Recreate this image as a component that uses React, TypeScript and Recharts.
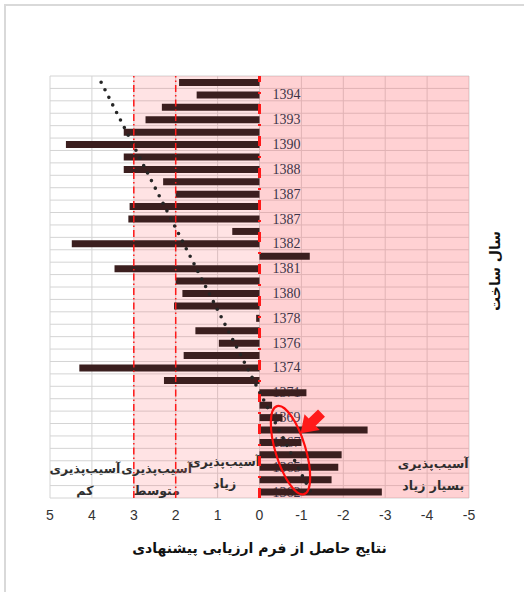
import {
  Bar,
  BarChart,
  CartesianGrid,
  LabelList,
  ReferenceArea,
  ReferenceDot,
  ReferenceLine,
  XAxis,
  YAxis,
} from "recharts";

// one entry per row, top to bottom; only every second row carries a year label
const YEAR_LABELS = [
  "", "1394", "", "1393", "", "1390", "", "1388", "", "1387", "", "1387",
  "", "1382", "", "1381", "", "1380", "", "1378", "", "1376", "", "1374",
  "", "1371", "", "1369", "", "1367", "", "1365", "", "1362",
];

const SCORES = [
  1.92, 1.5, 2.33, 2.72, 3.24, 4.62, 3.24, 3.24, 2.3, 2.0, 3.1, 3.13,
  0.65, 4.48, -1.2, 3.46, 2.0, 1.84, 2.04, 0.08, 1.53, 0.97, 1.81, 4.3,
  2.28, -1.12, -0.3, -0.55, -2.58, -1.0, -1.96, -1.88, -1.72, -2.92,
];

const X_TICKS = [5, 4, 3, 2, 1, 0, -1, -2, -3, -4, -5];

// linear trend line, value at first and last row
const TREND_START = 3.78;
const TREND_END = -1.22;

const ZONE_BOUNDS = [5, 3, 2, 0, -5];
const ZONE_TITLES = [
  ["آسیب‌پذیری", "کم"],
  ["آسیب‌پذیری", "متوسط"],
  ["آسیب‌پذیری", "زیاد"],
  ["آسیب‌پذیری", "بسیار زیاد"],
];
const ZONE_FILLS = ["#ffffff", "#ff666c", "#ff666c", "#ff666c"];
const ZONE_OPACITY = [0, 0.18, 0.18, 0.3];
const ZONE_TEXT_SHIFT = [
  { dx: -7, y1: 30, y2: 8 },
  { dx: 2, y1: 30, y2: 8 },
  { dx: 7, y1: 37, y2: 15 },
  { dx: 69, y1: 35, y2: 13 },
];

const X_TITLE = "نتایج حاصل از فرم ارزیابی پیشنهادی";
const Y_TITLE = "سال ساخت";

const PERSIAN_FONT = "'DejaVu Sans', sans-serif";

const rows = SCORES.map((score, i) => ({
  id: i,
  score,
  year: YEAR_LABELS[i],
}));

function zoneLabel(index: number) {
  const lines = ZONE_TITLES[index];
  const shift = ZONE_TEXT_SHIFT[index];
  return (props: any) => {
    const vb = props.viewBox;
    if (!vb) return null;
    const cx = vb.x + vb.width / 2 + shift.dx;
    const bottom = vb.y + vb.height;
    return (
      <g
        fontFamily={PERSIAN_FONT}
        fontSize={12.5}
        fontWeight="bold"
        fill="#2e2e2e"
        textAnchor="middle"
      >
        <text x={cx} y={bottom - shift.y1} dominantBaseline="central">
          {lines[0]}
        </text>
        <text x={cx} y={bottom - shift.y2} dominantBaseline="central">
          {lines[1]}
        </text>
      </g>
    );
  };
}

function Annotation(props: any) {
  const { cx, cy } = props;
  if (cx == null || cy == null) return null;
  const ex = cx;
  const ey = cy + 8;
  return (
    <g>
      <ellipse
        cx={ex}
        cy={ey}
        rx={15}
        ry={46}
        transform={`rotate(-17 ${ex} ${ey})`}
        fill="none"
        stroke="#ff0d0d"
        strokeWidth={2.2}
      />
      <polygon
        points="0,-5 13,-5 13,-11 29,0 13,11 13,5 0,5"
        transform={`translate(${ex + 31} ${ey - 37}) rotate(136)`}
        fill="#ff1a1a"
      />
    </g>
  );
}

export default function App() {
  return (
    <div
      style={{
        position: "absolute",
        left: 0,
        top: 0,
        width: 524,
        height: 592,
        overflow: "hidden",
        background: "#fff",
      }}
    >
      <div
        style={{
          position: "absolute",
          left: 4,
          top: 4,
          width: 600,
          height: 700,
          border: "2px solid #d9d9d9",
        }}
      />
      <div style={{ position: "absolute", left: 0, top: 0 }}>
        <BarChart
          width={524}
          height={592}
          layout="vertical"
          data={rows}
          barSize={7}
          margin={{ top: 76, right: 55, bottom: 34, left: 50 }}
        >
          <CartesianGrid
            stroke="#d4d4d4"
            horizontalCoordinatesGenerator={({ offset }: any) =>
              Array.from(
                { length: rows.length + 1 },
                (_, i) => offset.top + (i * offset.height) / rows.length
              )
            }
          />
          {ZONE_TITLES.map((_, i) => (
            <ReferenceArea
              key={i}
              x1={ZONE_BOUNDS[i]}
              x2={ZONE_BOUNDS[i + 1]}
              fill={ZONE_FILLS[i]}
              fillOpacity={ZONE_OPACITY[i]}
              stroke="none"
              ifOverflow="visible"
              label={zoneLabel(i)}
            />
          ))}
          <XAxis
            type="number"
            domain={[-5, 5]}
            reversed
            ticks={X_TICKS}
            interval={0}
            axisLine={false}
            tickLine={false}
            tickSize={0}
            tickMargin={12}
            height={60}
            tick={{ fill: "#333", fontSize: 14, fontFamily: "'Liberation Sans', Arial" }}
            label={{
              value: X_TITLE,
              position: "insideBottom",
              offset: 5,
              fill: "#111",
              fontSize: 14,
              fontWeight: "bold",
              fontFamily: PERSIAN_FONT,
            }}
          />
          <YAxis type="category" dataKey="id" hide />
          <Bar dataKey="score" fill="#3b1f1f" isAnimationActive={false}>
            <LabelList
              dataKey="year"
              zIndex={250}
              content={(p: any) => {
                const vb = p.viewBox;
                if (!p.value || !vb) return null;
                return (
                  <text
                    x={vb.x + 13}
                    y={vb.y + vb.height / 2}
                    dominantBaseline="central"
                    fill="#3c3448"
                    fontSize={14}
                    fontFamily="'Liberation Serif', serif"
                  >
                    {p.value}
                  </text>
                );
              }}
            />
          </Bar>
          <ReferenceLine
            x={3}
            stroke="#ff1a1a"
            strokeWidth={1.5}
            strokeDasharray="7 3 1.5 3"
          />
          <ReferenceLine
            x={2}
            stroke="#ff1a1a"
            strokeWidth={1.5}
            strokeDasharray="7 3 1.5 3"
          />
          <ReferenceLine
            x={0}
            stroke="#ff1a1a"
            strokeWidth={3}
            strokeDasharray="10 10 2 10"
          />
          <ReferenceLine
            segment={[
              { x: TREND_START, y: 0 },
              { x: TREND_END, y: rows.length - 1 },
            ]}
            stroke="#262626"
            strokeWidth={3.6}
            strokeDasharray="0 8.5"
            strokeLinecap="round"
            ifOverflow="visible"
          />
          <ReferenceDot
            x={-0.74}
            y={29}
            r={0}
            ifOverflow="visible"
            shape={(p: any) => <Annotation {...p} />}
          />
        </BarChart>
      </div>
      <svg
        width={524}
        height={592}
        style={{ position: "absolute", left: 0, top: 0, pointerEvents: "none" }}
      >
        <text
          transform="translate(495 271) rotate(-90)"
          textAnchor="middle"
          dominantBaseline="central"
          fontFamily={PERSIAN_FONT}
          fontSize={14}
          fontWeight="bold"
          fill="#111"
        >
          {Y_TITLE}
        </text>
      </svg>
    </div>
  );
}
